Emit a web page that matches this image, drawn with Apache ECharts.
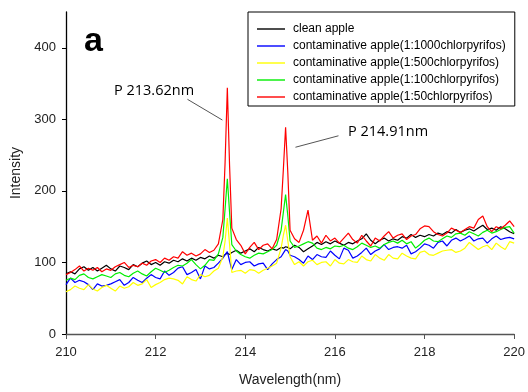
<!DOCTYPE html>
<html><head><meta charset="utf-8">
<script src="https://cdn.jsdelivr.net/npm/echarts@6/dist/echarts.min.js"></script>
<style>html,body{margin:0;padding:0;background:#fff}#c{width:528px;height:392px}</style>
</head><body><div id="c"></div>
<script>
const wavelengths = [
210.0,210.1,210.2,210.3,210.4,210.5,210.6,210.7,210.8,210.9,
211.0,211.1,211.2,211.3,211.4,211.5,211.6,211.7,211.8,211.9,
212.0,212.1,212.2,212.3,212.4,212.5,212.6,212.7,212.8,212.9,
213.0,213.1,213.2,213.3,213.4,213.5,
213.55,213.6,213.65,
213.7,213.8,213.9,214.0,214.1,214.2,214.3,214.4,214.5,214.6,214.7,214.8,
214.85,214.9,214.95,
215.0,215.1,215.2,215.3,215.4,215.5,215.6,215.7,215.8,215.9,
216.0,216.1,216.2,216.3,216.4,216.5,216.6,216.7,216.8,216.9,
217.0,217.1,217.2,217.3,217.4,217.5,217.6,217.7,217.8,217.9,
218.0,218.1,218.2,218.3,218.4,218.5,218.6,218.7,218.8,218.9,
219.0,219.1,219.2,219.3,219.4,219.5,219.6,219.7,219.8,219.9,
220.0];

const cleanApple = [
84,87,84,91,94,89,93,88,92,96, 91,88,95,93,90,97,94,99,102,97,
100,96,101,99,103,101,105,102,106,103, 107,105,109,106,110,108,
111,113,111,
114,117,113,116,119,115,121,118,116,119,117,121,
120,122,121,
119,124,121,115,119,123,128,125,129,126, 130,127,124,128,126,130,133,140,131,126,
131,134,130,133,131,136,134,139,135,138, 136,139,137,141,139,143,141,146,142,145,
147,144,148,152,146,148,145,150,147,143, 140];

const ratio1000 = [
69,78,72,75,73,69,62,70,67,68, 70,73,76,68,72,79,75,72,78,83,
79,77,88,82,86,92,94,83,86,90, 77,95,91,93,99,106,
111,115,102,
90,104,97,100,101,95,98,99,90,98,104,108,
113,118,116,
110,108,104,99,109,104,111,108,107,116, 110,105,120,117,106,109,114,120,111,116,
119,125,118,121,122,120,124,112,115,120, 126,124,120,128,130,123,131,134,130,133,
137,130,133,134,127,133,137,132,134,135, 133];

const ratio500 = [
59,62,67,64,62,69,63,60,65,68, 64,60,67,64,66,72,68,70,76,65,
69,72,76,78,77,75,70,80,76,74, 83,80,82,88,92,108,
130,162,125,
86,88,89,85,90,89,85,89,92,95,99,120,
138,152,130,
108,97,101,95,101,103,97,100,101,95, 104,99,98,104,101,100,109,104,102,111,
106,103,111,106,105,113,109,106,105,114, 116,111,110,113,116,117,118,114,116,120,
128,123,118,122,124,118,127,122,118,129, 127];

const ratio100 = [
75,78,76,82,84,79,77,80,83,81, 79,84,86,82,80,85,88,84,81,87,
92,89,86,89,93,96,95,99,104,97, 91,96,104,103,112,135,
175,217,170,
125,116,111,108,106,110,113,112,115,118,124,145,
170,195,165,
130,121,123,126,129,127,120,118,121,119, 123,122,124,120,118,122,127,124,121,123,
120,125,128,130,127,131,126,129,120,125, 131,134,130,129,133,137,135,140,141,138,
143,140,137,142,145,141,143,146,149,150, 141];

const ratio50 = [
83,86,90,95,88,92,89,93,87,91, 89,94,97,100,93,96,94,99,96,102,
104,100,106,103,108,106,115,110,113,109, 112,118,114,117,126,160,
240,344,235,
148,132,124,112,121,128,118,124,126,119,132,175,
230,289,225,
145,133,128,145,173,131,137,127,138,130, 134,127,134,141,132,127,138,130,123,134,
130,137,143,134,138,140,132,137,139,147, 151,150,143,139,137,141,148,145,142,146,
150,148,160,165,150,143,150,147,152,158, 150];

const seriesNames = [
  'clean apple',
  'contaminative apple(1:1000chlorpyrifos)',
  'contaminative apple(1:500chlorpyrifos)',
  'contaminative apple(1:100chlorpyrifos)',
  'contaminative apple(1:50chlorpyrifos)'
];
const seriesValues = [cleanApple, ratio1000, ratio500, ratio100, ratio50];
const seriesColors = ['#000000', '#0000ff', '#ffff00', '#00ee00', '#ff0000'];
const yTicks = [0, 100, 200, 300, 400];
const peakLabels = ['P 213.62nm', 'P 214.91nm'];
// leader lines in data coordinates [wavelength, intensity]
const leaderLines = [
  [[212.71, 328], [213.49, 299]],
  [[215.12, 261], [216.08, 277]]
];

const FONT = 'Liberation Sans, Arial, sans-serif';
const chart = echarts.init(document.getElementById('c'), null, {renderer: 'canvas'});

const series = seriesValues.map((vals, k) => ({
  name: seriesNames[k],
  type: 'line',
  data: wavelengths.map((w, i) => [w, vals[i]]),
  symbol: 'none',
  showSymbol: false,
  silent: true,
  z: 2 + k,
  lineStyle: {color: seriesColors[k], width: 1.2},
  itemStyle: {color: seriesColors[k]},
  markLine: k === 4 ? {
    silent: true, symbol: 'none', animation: false,
    label: {show: false},
    lineStyle: {color: '#555', width: 1, type: 'solid'},
    data: leaderLines.map(l => [{coord: l[0]}, {coord: l[1]}])
  } : undefined
}));

chart.setOption({
  animation: false,
  backgroundColor: '#fff',
  grid: {left: 66, right: 11, top: 12, bottom: 55, containLabel: false},
  xAxis: {
    type: 'value', min: 210, max: 220, interval: 2,
    name: 'Wavelength(nm)', nameLocation: 'middle', nameGap: 39,
    nameTextStyle: {fontFamily: FONT, fontSize: 14, color: '#222'},
    axisLine: {show: true, onZero: false, lineStyle: {color: '#555', width: 1.3}},
    axisTick: {show: true, length: 5, lineStyle: {color: '#555', width: 1}},
    axisLabel: {fontFamily: FONT, fontSize: 13, color: '#222', margin: 12},
    splitLine: {show: false}
  },
  yAxis: {
    type: 'value', min: 0, max: 450,
    name: 'Intensity', nameLocation: 'middle', nameGap: 43,
    nameTextStyle: {fontFamily: FONT, fontSize: 14, color: '#222'},
    axisLine: {show: true, lineStyle: {color: '#000', width: 1.3}},
    axisTick: {show: true, length: 4, customValues: yTicks, lineStyle: {color: '#000', width: 1}},
    axisLabel: {fontFamily: FONT, fontSize: 13, color: '#222', margin: 10, customValues: yTicks},
    splitLine: {show: false}
  },
  legend: {
    data: seriesNames.map(n => ({name: n, icon: 'rect'})),
    orient: 'vertical', left: 248, top: 12,
    padding: [10, 9, 2, 9],
    itemWidth: 28, itemHeight: 1.4, itemGap: 3,
    borderColor: '#000', borderWidth: 1, backgroundColor: '#fff',
    selectedMode: false,
    textStyle: {fontFamily: FONT, fontSize: 12, color: '#000', lineHeight: 14, padding: [0, 0, 0, 3]}
  },
  graphic: [
    {type: 'text', x: 84, y: 42, z: 10,
     style: {text: 'a', fontFamily: FONT, fontWeight: 'bold', fontSize: 34, fill: '#000', align: 'left', verticalAlign: 'middle'}},
    {type: 'text', x: 114, y: 91, z: 10,
     style: {text: peakLabels[0], fontFamily: 'Open Sans, sans-serif', fontSize: 14.5, fill: '#000', align: 'left', verticalAlign: 'middle'}},
    {type: 'text', x: 348, y: 132, z: 10,
     style: {text: peakLabels[1], fontFamily: 'Open Sans, sans-serif', fontSize: 14.5, fill: '#000', align: 'left', verticalAlign: 'middle'}}
  ],
  series: series
});
</script>
</body></html>
